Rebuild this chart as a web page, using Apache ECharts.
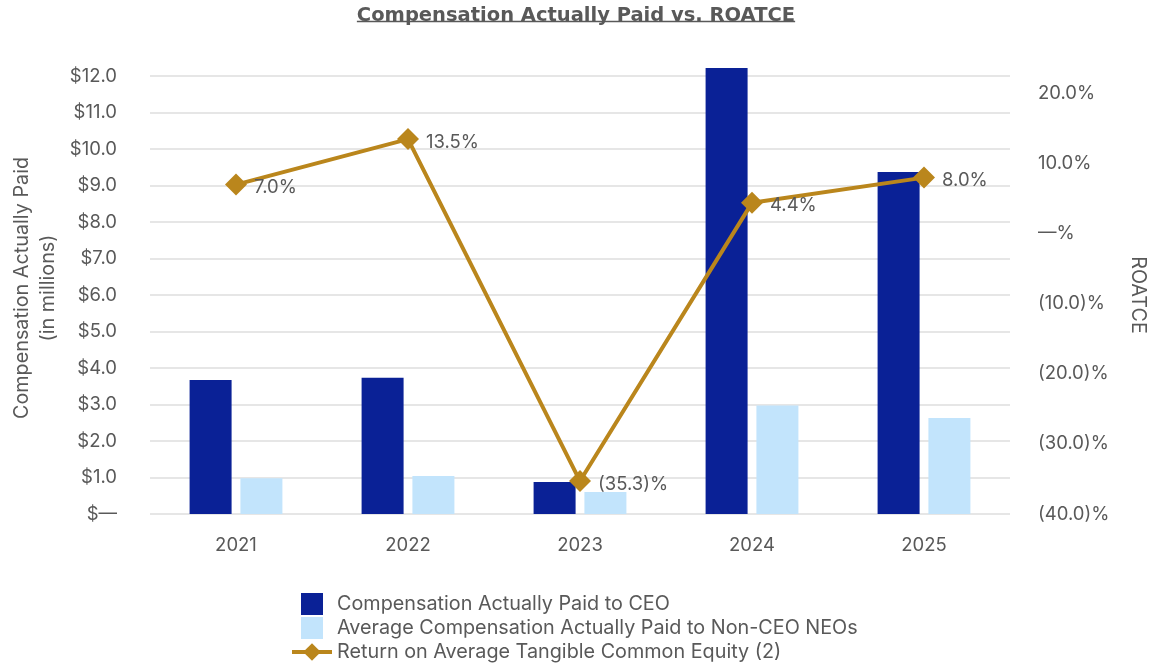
<!DOCTYPE html>
<html>
<head>
<meta charset="utf-8">
<script src="https://cdn.jsdelivr.net/npm/echarts@6/dist/echarts.min.js"></script>
<style>
html,body{margin:0;padding:0;background:#fff;}
#chart{width:1152px;height:672px;}
</style>
</head>
<body>
<div id="chart"></div>
<script>
const categories = ['2021', '2022', '2023', '2024', '2025'];
const ceoCap = [3.67, 3.73, 0.88, 12.22, 9.37];
const neoCap = [0.98, 1.04, 0.60, 2.97, 2.63];
const roatce = [7.0, 13.5, -35.3, 4.4, 8.0];
const seriesNames = [
  'Compensation Actually Paid to CEO',
  'Average Compensation Actually Paid to Non-CEO NEOs',
  'Return on Average Tangible Common Equity (2)'
];
const titleText = 'Compensation Actually Paid vs. ROATCE';

const FONT = 'Inter';
const TFONT = 'DejaVu Sans';
const TXT = '#595959';
const GOLD = '#BA861C';
const AX = 18.5;
const LG = 19.8;

function pct(v) {
  if (Math.abs(v) < 1e-9) return '\u2014%';
  if (v < 0) return '(' + Math.abs(v).toFixed(1) + ')%';
  return v.toFixed(1) + '%';
}
function usd(v) {
  if (Math.abs(v) < 1e-9) return '$\u2014';
  return '$' + v.toFixed(1);
}

const cv = document.createElement('canvas').getContext('2d');
cv.font = 'bold 19.5px "' + TFONT + '"';
const tw = cv.measureText(titleText).width;

const chart = echarts.init(document.getElementById('chart'));
chart.setOption({
  animation: false,
  title: {
    text: titleText,
    left: 'center',
    top: 1,
    textStyle: { fontFamily: TFONT, fontWeight: 'bold', fontSize: 19.5, color: TXT }
  },
  graphic: [{
    type: 'line',
    shape: { x1: 576 - tw / 2, y1: 21.5, x2: 576 + tw / 2, y2: 21.5 },
    style: { stroke: TXT, lineWidth: 1.5 }
  }],
  grid: { left: 150, right: 142, top: 76, bottom: 158, outerBoundsMode: 'none', containLabel: false },
  legend: {
    orient: 'vertical',
    left: 290,
    top: 592,
    height: 80,
    padding: 0,
    itemWidth: 40,
    itemHeight: 22,
    itemGap: 0,
    textStyle: { fontFamily: FONT, fontSize: LG, color: TXT, lineHeight: 24 },
    data: [
      { name: seriesNames[0], icon: 'path://M0,0L10,0L10,10L0,10Z' },
      { name: seriesNames[1], icon: 'path://M0,0L10,0L10,10L0,10Z' },
      { name: seriesNames[2], lineStyle: { width: 4, color: GOLD } }
    ]
  },
  xAxis: {
    type: 'category',
    data: categories,
    axisLine: { show: false },
    axisTick: { show: false },
    axisLabel: { fontFamily: FONT, fontSize: AX, color: TXT, margin: 22 }
  },
  yAxis: [
    {
      type: 'value',
      min: 0, max: 12, interval: 1,
      name: 'Compensation Actually Paid\n(in millions)',
      nameLocation: 'middle',
      nameGap: 89,
      nameMoveOverlap: false,
      nameTextStyle: { fontFamily: FONT, fontSize: LG, color: TXT, lineHeight: 26, padding: [0, 0, 0, 14] },
      axisLine: { show: false },
      axisTick: { show: false },
      axisLabel: { fontFamily: FONT, fontSize: AX, color: TXT, margin: 33, formatter: usd },
      splitLine: { lineStyle: { color: '#E6E6E6', width: 2 } }
    },
    {
      type: 'value',
      min: -40, max: 22.5, interval: 10,
      name: 'ROATCE',
      nameLocation: 'middle',
      nameRotate: -90,
      nameGap: 118,
      nameMoveOverlap: false,
      nameTextStyle: { fontFamily: FONT, fontSize: LG, color: TXT },
      axisLine: { show: false },
      axisTick: { show: false },
      splitLine: { show: false },
      axisLabel: { fontFamily: FONT, fontSize: AX, color: TXT, margin: 28, formatter: pct, showMaxLabel: false }
    }
  ],
  series: [
    {
      name: seriesNames[0],
      type: 'bar',
      data: ceoCap,
      clip: false,
      barWidth: 42,
      barGap: '21%',
      itemStyle: { color: '#0A2196' }
    },
    {
      name: seriesNames[1],
      type: 'bar',
      data: neoCap,
      barWidth: 42,
      barGap: '21%',
      itemStyle: { color: '#C2E4FC' }
    },
    {
      name: seriesNames[2],
      type: 'line',
      yAxisIndex: 1,
      data: roatce,
      symbol: 'diamond',
      symbolSize: 22,
      z: 5,
      lineStyle: { color: GOLD, width: 4 },
      itemStyle: { color: GOLD },
      label: {
        show: true,
        position: 'right',
        distance: 7,
        offset: [0, 3],
        fontFamily: FONT,
        fontSize: AX,
        color: TXT,
        formatter: p => pct(p.value)
      }
    }
  ]
});
</script>
</body>
</html>
